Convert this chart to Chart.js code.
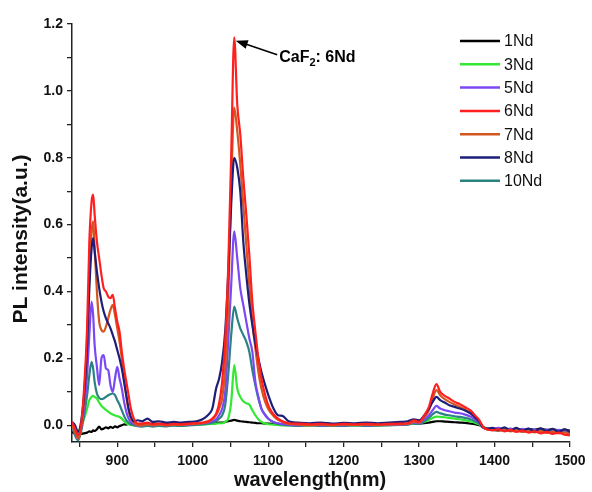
<!DOCTYPE html>
<html>
<head>
<meta charset="utf-8">
<script src="https://cdn.jsdelivr.net/npm/chart.js@4.4.1/dist/chart.umd.min.js"></script>
<style>
  html, body { margin: 0; padding: 0; background: #fff; }
  #wrap { width: 592px; height: 492px; }
</style>
</head>
<body>
<div id="wrap"><canvas id="plChart"></canvas></div>
<script>
// wavelength grid (nm), shared by all spectra
const wavelength = [
  840, 844, 848, 852, 856, 860, 863, 866, 868, 870, 873, 876, 879, 882, 885, 888, 891, 894, 897, 900, 903, 906, 909, 912, 915, 918, 922, 927,
  933, 940, 947, 955, 965, 975, 985, 995, 1005, 1013, 1020, 1026, 1031, 1035,
  1039, 1043, 1047, 1051, 1055, 1059, 1063, 1067, 1071, 1075, 1079, 1083, 1087, 1091, 1096, 1101, 1107, 1113, 1119, 1127,
  1140, 1155, 1170, 1185, 1200, 1215, 1230, 1245, 1260, 1275, 1285, 1293,
  1300, 1307, 1313, 1318, 1323, 1328, 1334, 1340, 1347, 1354, 1361, 1368, 1374, 1380, 1385, 1390,
  1397, 1405, 1413, 1421, 1429, 1437, 1445, 1453, 1461, 1469, 1477, 1485, 1493, 1500
];

const nd1 = [
  -0.02, -0.025, -0.028, -0.026, -0.024, -0.022, -0.018, -0.02, -0.015, -0.017, -0.012, -0.004, -0.012, -0.01, -0.006, -0.009, -0.005, -0.008, -0.003, -0.006, -0.002, 0.0, 0.003, 0.002, 0.004, 0.003, 0.004, 0.003,
  0.004, 0.003, 0.005, 0.004, 0.005, 0.004, 0.005, 0.004, 0.005, 0.005, 0.006, 0.006, 0.007, 0.008,
  0.008, 0.01, 0.012, 0.014, 0.016, 0.014, 0.012, 0.011, 0.01, 0.009, 0.008, 0.007, 0.006, 0.006, 0.005, 0.005, 0.004, 0.004, 0.003, 0.003,
  0.003, 0.002, 0.003, 0.002, 0.003, 0.002, 0.003, 0.002, 0.003, 0.004, 0.004, 0.005,
  0.005, 0.006, 0.008, 0.01, 0.012, 0.012, 0.011, 0.01, 0.009, 0.008, 0.007, 0.005, 0.003, 0.0, -0.006, -0.009,
  -0.01, -0.012, -0.009, -0.013, -0.01, -0.014, -0.011, -0.013, -0.01, -0.014, -0.012, -0.015, -0.013, -0.016
];
const nd3 = [
  0.0, -0.01, -0.02, 0.0, 0.02, 0.05, 0.075, 0.085, 0.088, 0.085, 0.08, 0.068, 0.058, 0.052, 0.046, 0.041, 0.036, 0.032, 0.029, 0.027, 0.025, 0.02, 0.012, 0.006, 0.003, 0.001, 0.0, 0.0,
  0.0, 0.001, 0.0, 0.001, 0.0, 0.001, 0.0, 0.001, 0.001, 0.002, 0.003, 0.004, 0.005, 0.006,
  0.006, 0.01, 0.02, 0.07, 0.18, 0.11, 0.085, 0.072, 0.066, 0.062, 0.045, 0.03, 0.018, 0.01, 0.005, 0.003, 0.002, 0.001, 0.0, 0.0,
  0.0, 0.0, 0.001, 0.0, 0.001, 0.0, 0.001, 0.0, 0.001, 0.002, 0.003, 0.005,
  0.006, 0.01, 0.016, 0.022, 0.026, 0.025, 0.024, 0.022, 0.02, 0.018, 0.015, 0.012, 0.008, 0.002, -0.006, -0.01,
  -0.012, -0.01, -0.013, -0.011, -0.014, -0.012, -0.015, -0.013, -0.016, -0.014, -0.017, -0.015, -0.018, -0.019
];
const nd5 = [
  0.0, -0.02, -0.04, -0.01, 0.05, 0.15, 0.27, 0.37, 0.33, 0.24, 0.175, 0.12, 0.2, 0.21, 0.17, 0.165, 0.12, 0.1, 0.14, 0.175, 0.14, 0.11, 0.07, 0.04, 0.02, 0.01, 0.005, 0.0,
  0.0, 0.003, 0.0, 0.002, 0.0, 0.002, 0.001, 0.002, 0.004, 0.006, 0.008, 0.012, 0.018, 0.03,
  0.05, 0.1, 0.25, 0.42, 0.58, 0.5, 0.41, 0.36, 0.31, 0.26, 0.22, 0.13, 0.085, 0.05, 0.03, 0.018, 0.01, 0.006, 0.004, 0.002,
  0.0, 0.002, 0.0, 0.001, 0.0, 0.002, 0.0, 0.001, 0.002, 0.002, 0.003, 0.008,
  0.006, 0.018, 0.03, 0.045, 0.058, 0.05, 0.045, 0.042, 0.038, 0.036, 0.032, 0.026, 0.018, 0.008, -0.006, -0.01,
  -0.012, -0.008, -0.014, -0.01, -0.016, -0.011, -0.017, -0.012, -0.018, -0.013, -0.019, -0.014, -0.02, -0.022
];
const nd6 = [
  0.01, -0.01, -0.03, 0.0, 0.11, 0.29, 0.55, 0.67, 0.69, 0.63, 0.55, 0.5, 0.45, 0.41, 0.4, 0.385, 0.38, 0.39, 0.35, 0.31, 0.28, 0.22, 0.17, 0.13, 0.09, 0.05, 0.02, 0.005,
  0.005, 0.008, 0.003, 0.005, 0.002, 0.004, 0.003, 0.005, 0.006, 0.008, 0.012, 0.02, 0.035, 0.065,
  0.13, 0.25, 0.47, 0.81, 1.16, 0.96, 0.87, 0.74, 0.63, 0.51, 0.37, 0.28, 0.2, 0.14, 0.09, 0.055, 0.033, 0.02, 0.012, 0.006,
  0.005, 0.003, 0.004, 0.002, 0.004, 0.003, 0.004, 0.003, 0.004, 0.005, 0.006, 0.015,
  0.01, 0.03, 0.055, 0.095, 0.123, 0.1, 0.088, 0.08, 0.07, 0.063, 0.054, 0.045, 0.03, 0.015, -0.005, -0.012,
  -0.015, -0.012, -0.018, -0.014, -0.02, -0.016, -0.022, -0.018, -0.024, -0.02, -0.026, -0.022, -0.028, -0.03
];
const nd7 = [
  0.0, -0.02, -0.04, -0.01, 0.08, 0.25, 0.45, 0.58, 0.61, 0.53, 0.4, 0.31, 0.285, 0.28, 0.295, 0.32, 0.345, 0.36, 0.33, 0.29, 0.25, 0.2, 0.14, 0.085, 0.045, 0.02, 0.008, 0.0,
  0.0, 0.003, 0.0, 0.002, 0.0, 0.002, 0.001, 0.003, 0.004, 0.006, 0.01, 0.018, 0.03, 0.05,
  0.08, 0.17, 0.36, 0.71, 0.95, 0.88, 0.78, 0.66, 0.54, 0.42, 0.31, 0.23, 0.16, 0.11, 0.07, 0.045, 0.028, 0.016, 0.01, 0.004,
  0.002, 0.0, 0.002, 0.0, 0.002, 0.001, 0.002, 0.001, 0.002, 0.003, 0.004, 0.01,
  0.008, 0.025, 0.045, 0.08, 0.105, 0.09, 0.078, 0.07, 0.062, 0.055, 0.047, 0.038, 0.026, 0.012, -0.006, -0.012,
  -0.013, -0.016, -0.012, -0.018, -0.014, -0.02, -0.016, -0.021, -0.017, -0.023, -0.019, -0.024, -0.021, -0.026
];
const nd8 = [
  0.01, 0.0, -0.02, 0.01, 0.09, 0.23, 0.41, 0.53, 0.56, 0.52, 0.46, 0.41, 0.37, 0.34, 0.32, 0.305, 0.29, 0.27, 0.25, 0.225, 0.2, 0.17, 0.13, 0.09, 0.05, 0.025, 0.012, 0.015,
  0.012, 0.02, 0.01, 0.012, 0.008, 0.01, 0.008, 0.01, 0.012, 0.018, 0.03, 0.05, 0.11, 0.14,
  0.19, 0.28, 0.45, 0.66, 0.8, 0.77, 0.7, 0.55, 0.45, 0.365, 0.3, 0.245, 0.2, 0.16, 0.12, 0.085, 0.05, 0.03, 0.028, 0.012,
  0.008, 0.006, 0.008, 0.005, 0.007, 0.006, 0.008, 0.006, 0.008, 0.01, 0.012, 0.018,
  0.015, 0.03, 0.05, 0.07, 0.085, 0.075, 0.068, 0.06, 0.055, 0.05, 0.044, 0.036, 0.024, 0.01, -0.006, -0.01,
  -0.008, -0.014, -0.006, -0.015, -0.008, -0.016, -0.01, -0.018, -0.009, -0.017, -0.011, -0.019, -0.012, -0.02
];
const nd10 = [
  0.0, -0.03, -0.045, -0.02, 0.03, 0.09, 0.15, 0.19, 0.17, 0.13, 0.095, 0.082, 0.078, 0.08, 0.085, 0.09, 0.093, 0.095, 0.09, 0.075, 0.062, 0.045, 0.028, 0.015, 0.008, 0.003, 0.0, -0.003,
  -0.004, -0.002, -0.004, -0.002, -0.003, -0.001, -0.002, 0.0, 0.001, 0.003, 0.005, 0.008, 0.012, 0.02,
  0.03, 0.06, 0.15, 0.27, 0.355, 0.32, 0.29, 0.27, 0.25, 0.22, 0.165, 0.12, 0.08, 0.05, 0.032, 0.018, 0.009, 0.004, 0.002, 0.0,
  -0.002, 0.0, -0.002, -0.001, -0.002, 0.0, -0.002, -0.001, 0.0, 0.001, 0.002, 0.006,
  0.004, 0.012, 0.022, 0.033, 0.04, 0.036, 0.032, 0.03, 0.027, 0.025, 0.022, 0.018, 0.012, 0.004, -0.008, -0.012,
  -0.014, -0.016, -0.013, -0.017, -0.015, -0.019, -0.016, -0.02, -0.017, -0.021, -0.018, -0.022, -0.019, -0.023
];

const seriesNames = ["1Nd", "3Nd", "5Nd", "6Nd", "7Nd", "8Nd", "10Nd"];
const seriesValues = [nd1, nd3, nd5, nd6, nd7, nd8, nd10];
const seriesColors = ["#000000", "#33e833", "#7b48f5", "#ff1f1f", "#d2561f", "#1e1e78", "#2a8282"];
const seriesOrder = [6, 5, 3, 0, 2, 1, 4]; // red on top

const xTicks = [850, 900, 950, 1000, 1050, 1100, 1150, 1200, 1250, 1300, 1350, 1400, 1450, 1500];
const yTicks = [0, 0.1, 0.2, 0.3, 0.4, 0.5, 0.6, 0.7, 0.8, 0.9, 1.0, 1.1, 1.2];

const xTitle = 'wavelength(nm)';
const yTitle = 'PL intensity(a.u.)';

// arrow note, in data units
const noteTip = [1057, 1.15];
const noteTail = [1112, 1.108];

const FONT = '"Liberation Sans", Arial, sans-serif';

const legendBox = {
  id: 'legendBox',
  afterDraw(chart) {
    const ctx = chart.ctx;
    ctx.save();
    ctx.font = '16px ' + FONT;
    ctx.textBaseline = 'middle';
    seriesNames.forEach((name, i) => {
      const y = 41 + i * 23.3;
      ctx.strokeStyle = seriesColors[i];
      ctx.lineWidth = 2.5;
      ctx.beginPath();
      ctx.moveTo(460, y);
      ctx.lineTo(500, y);
      ctx.stroke();
      ctx.fillStyle = '#111';
      ctx.fillText(name, 504, y + 1);
    });
    ctx.restore();
  }
};

// axis titles sit a bit off-centre in the original, so draw them by hand
const axisTitles = {
  id: 'axisTitles',
  afterDraw(chart) {
    const ctx = chart.ctx;
    ctx.save();
    ctx.fillStyle = '#111';
    ctx.textAlign = 'center';
    ctx.textBaseline = 'middle';
    ctx.font = 'bold 20px ' + FONT;
    ctx.fillText(xTitle, 310, 480);
    ctx.translate(21.5, 239);
    ctx.rotate(-Math.PI / 2);
    ctx.font = 'bold 21px ' + FONT;
    ctx.fillText(yTitle, 0, 0);
    ctx.restore();
  }
};

const arrowNote = {
  id: 'arrowNote',
  afterDraw(chart) {
    const { ctx, scales: { x, y } } = chart;
    const tx = x.getPixelForValue(noteTip[0]), ty = y.getPixelForValue(noteTip[1]);
    const ex = x.getPixelForValue(noteTail[0]), ey = y.getPixelForValue(noteTail[1]);
    const ang = Math.atan2(ty - ey, tx - ex);
    ctx.save();
    ctx.strokeStyle = '#000';
    ctx.fillStyle = '#000';
    ctx.lineWidth = 1.6;
    ctx.beginPath();
    ctx.moveTo(ex, ey);
    ctx.lineTo(tx - 8 * Math.cos(ang), ty - 8 * Math.sin(ang));
    ctx.stroke();
    ctx.beginPath();
    ctx.moveTo(tx, ty);
    ctx.lineTo(tx - 12 * Math.cos(ang) + 4.5 * Math.sin(ang), ty - 12 * Math.sin(ang) - 4.5 * Math.cos(ang));
    ctx.lineTo(tx - 12 * Math.cos(ang) - 4.5 * Math.sin(ang), ty - 12 * Math.sin(ang) + 4.5 * Math.cos(ang));
    ctx.closePath();
    ctx.fill();

    // "CaF2: 6Nd" with subscript 2
    let px = ex + 2, py = ey + 7;
    ctx.textBaseline = 'alphabetic';
    ctx.font = 'bold 16px ' + FONT;
    ctx.fillText('CaF', px, py);
    px += ctx.measureText('CaF').width;
    ctx.font = 'bold 11px ' + FONT;
    ctx.fillText('2', px, py + 4);
    px += ctx.measureText('2').width;
    ctx.font = 'bold 16px ' + FONT;
    ctx.fillText(': 6Nd', px, py);
    ctx.restore();
  }
};

new Chart(document.getElementById('plChart'), {
  type: 'line',
  data: {
    datasets: seriesNames.map((name, i) => ({
      label: name,
      data: wavelength.map((w, k) => ({ x: w, y: seriesValues[i][k] })),
      borderColor: seriesColors[i],
      borderWidth: 2.2,
      pointRadius: 0,
      fill: false,
      cubicInterpolationMode: 'monotone',
      order: seriesOrder[i]
    }))
  },
  options: {
    responsive: true,
    maintainAspectRatio: false,
    animation: false,
    layout: { padding: { left: 0, right: 22, top: 24, bottom: 0 } },
    plugins: {
      legend: { display: false },
      tooltip: { enabled: false }
    },
    scales: {
      x: {
        type: 'linear',
        min: 840,
        max: 1500,
        afterBuildTicks: s => { s.ticks = xTicks.map(v => ({ value: v })); },
        afterFit: s => { s.height = 50; },
        border: { display: true, color: '#222', width: 1.5 },
        grid: { display: true, drawOnChartArea: false, drawTicks: true, tickLength: 5, color: '#222', lineWidth: 1.3 },
        ticks: {
          autoSkip: false,
          maxRotation: 0,
          padding: 6,
          color: '#111',
          font: { family: FONT, size: 14, weight: 'bold' },
          callback: v => (v % 100 === 0 ? String(v) : '')
        },
        title: { display: false }
      },
      y: {
        min: -0.05,
        max: 1.2,
        afterBuildTicks: s => { s.ticks = yTicks.map(v => ({ value: v })); },
        afterFit: s => { s.width = 72; },
        border: { display: true, color: '#222', width: 1.5 },
        grid: { display: true, drawOnChartArea: false, drawTicks: true, tickLength: 5, color: '#222', lineWidth: 1.3 },
        ticks: {
          autoSkip: false,
          padding: 4,
          color: '#111',
          font: { family: FONT, size: 14, weight: 'bold' },
          callback: (v, i) => (i % 2 === 0 ? v.toFixed(1) : '')
        },
        title: { display: false }
      }
    }
  },
  plugins: [legendBox, axisTitles, arrowNote]
});
</script>
</body>
</html>
